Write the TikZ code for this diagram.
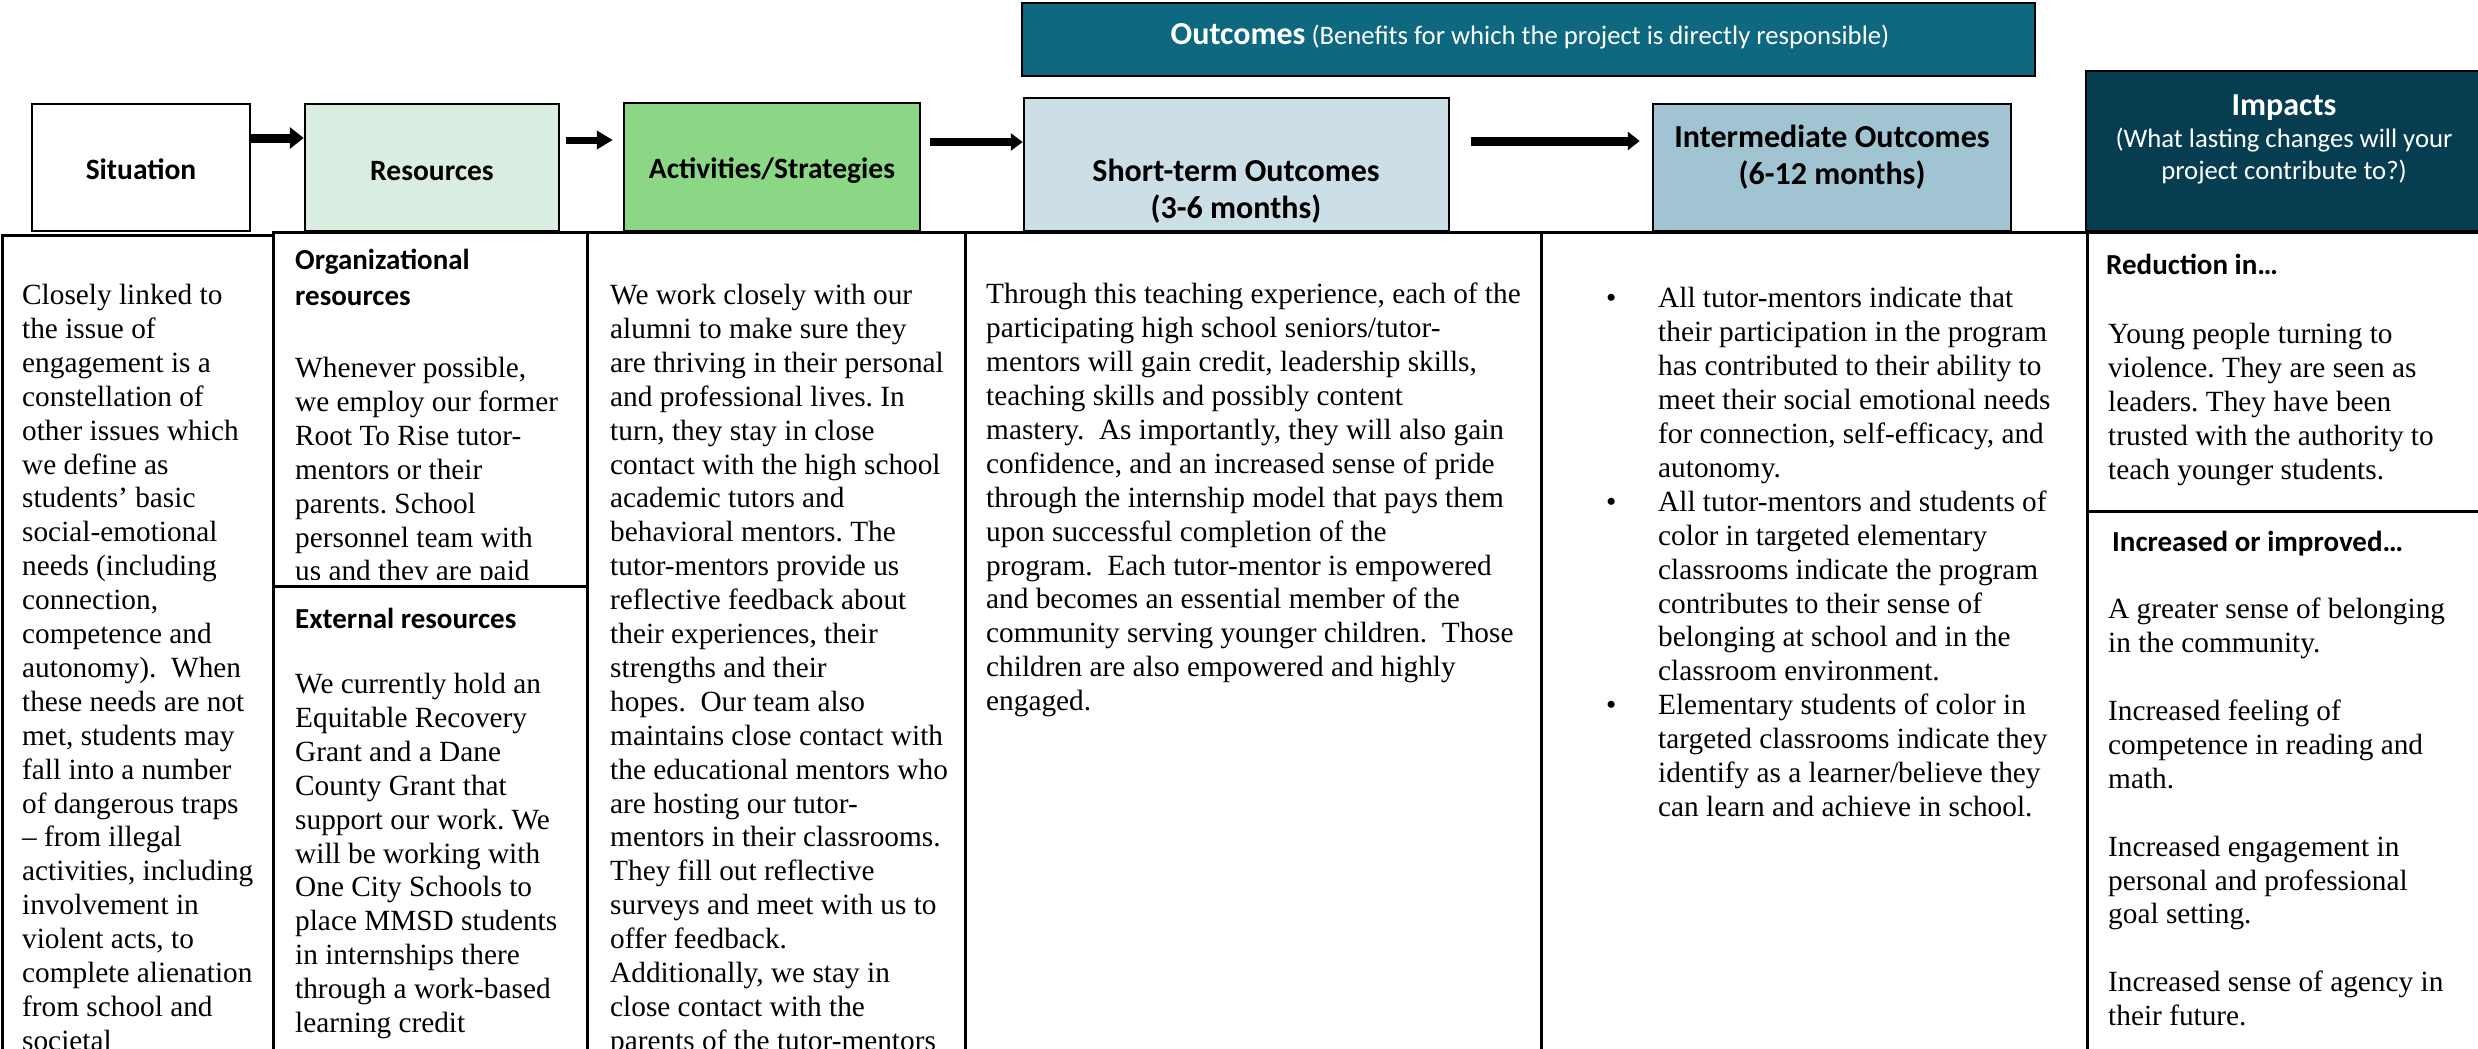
\documentclass[tikz,border=0pt]{standalone}
\usepackage{fontspec}
\setmainfont{Liberation Serif}
\newfontfamily\calfont{Carlito}
\usetikzlibrary{arrows.meta}
\definecolor{resfill}{HTML}{D9EDE1}
\definecolor{actfill}{HTML}{8CD786}
\definecolor{stfill}{HTML}{CCDFE6}
\definecolor{imfill}{HTML}{A1C4D3}
\definecolor{outfill}{HTML}{0D6880}
\definecolor{impfill}{HTML}{073D50}
\frenchspacing
\begin{document}
\begin{tikzpicture}[x=1pt,y=-1pt,
  cell/.style={draw=black, line width=2.5pt, inner sep=0pt, anchor=north west},
  topbox/.style={draw=black, line width=2.5pt, inner sep=0pt},
  body/.style={anchor=north west, inner sep=0pt, align=left, font=\fontsize{29.3}{33.9}\selectfont},
  chead/.style={anchor=north west, inner sep=0pt, align=left, font=\calfont\bfseries\fontsize{29}{36}\selectfont},
  hdr/.style={inner sep=0pt, align=center, font=\calfont\bfseries\fontsize{29.5}{36}\selectfont},
  ohdr/.style={inner sep=0pt, align=center, font=\calfont\bfseries\fontsize{32}{37}\selectfont},
  arr/.style={-{Triangle[length=14pt,width=21pt]}, line width=9pt}
]
\useasboundingbox (0,0) rectangle (2478,1049);
\clip (0,0) rectangle (2478,1049);

% ---------- table cells ----------
\node[cell, minimum width=271pt, minimum height=836pt] (c1) at (1,234) {};
\node[cell, minimum width=314pt, minimum height=354pt] (c2a) at (272,231) {};
\node[cell, minimum width=314pt, minimum height=485pt] (c2b) at (272,585) {};
\node[cell, minimum width=378pt, minimum height=839pt] (c3) at (586,231) {};
\node[cell, minimum width=576pt, minimum height=839pt] (c4) at (964,231) {};
\node[cell, minimum width=546pt, minimum height=839pt] (c5) at (1540,231) {};
\node[cell, minimum width=410pt, minimum height=279pt] (c6a) at (2086,231) {};
\node[cell, minimum width=410pt, minimum height=560pt] (c6b) at (2086,510) {};

% ---------- top boxes ----------
\node[topbox, fill=white, minimum width=218pt, minimum height=127pt] (sit) at (141,167.5) {};
\node[topbox, fill=resfill, minimum width=254pt, minimum height=127pt] (res) at (432,167.5) {};
\node[topbox, fill=actfill, minimum width=296pt, minimum height=128pt] (act) at (772,167) {};
\node[topbox, fill=stfill, minimum width=425pt, minimum height=133pt] (st) at (1236.5,164.5) {};
\node[topbox, fill=imfill, minimum width=358pt, minimum height=127pt] (im) at (1832,167.5) {};
\node[topbox, fill=impfill, minimum width=420pt, minimum height=160pt] (imp) at (2296,151) {};
\node[topbox, fill=outfill, minimum width=1013pt, minimum height=73pt] (out) at (1528.5,39.5) {};

\node[hdr] (sitT) at (141,169) {Situation};
\node[hdr] (resT) at (432,171) {Resources};
\node[hdr] (actT) at (772,171) {Activities/Strategies};
\node[ohdr] (stT) at (1236,191) {Short-term Outcomes\\(3-6 months)};
\node[ohdr] (imT) at (1832,157) {Intermediate Outcomes\\(6-12 months)};
\node[inner sep=0pt, align=center, text=white, font=\calfont\fontsize{26.7}{32}\selectfont] (impT) at (2284,139)
  {{\bfseries\fontsize{32}{34}\selectfont Impacts}\\(What lasting changes will your\\project contribute to?)};
\node[inner sep=0pt, text=white, font=\calfont\fontsize{26.7}{32}\selectfont] (outT) at (1530,36)
  {{\bfseries\fontsize{32}{34}\selectfont Outcomes} (Benefits for which the project is directly responsible)};

% ---------- arrows ----------
\draw[arr] (sit.east |- 0,138) -- (res.west |- 0,138);
\draw[arr, line width=7pt, -{Triangle[length=16pt,width=18pt]}] ([xshift=6pt]res.east |- 0,140) -- ([xshift=-10pt]act.west |- 0,140);
\draw[arr, line width=8pt, -{Triangle[length=12pt,width=17pt]}] ([xshift=9pt]act.east |- 0,142) -- (st.west |- 0,142);
\draw[arr, line width=9pt, -{Triangle[length=12pt,width=18pt]}] ([xshift=21pt]st.east |- 0,141) -- ([xshift=-12pt]im.west |- 0,141);

% ---------- column 1 ----------
\node[body] (t1) at (22,284) {Closely linked to\\the issue of\\engagement is a\\constellation of\\other issues which\\we define as\\students’ basic\\social-emotional\\needs (including\\connection,\\competence and\\autonomy).~ When\\these needs are not\\met, students may\\fall into a number\\of dangerous traps\\– from illegal\\activities, including\\involvement in\\violent acts, to\\complete alienation\\from school and\\societal};

% ---------- column 2 ----------
\node[chead] (h2a) at (295,249) {Organizational\\resources};
\begin{scope}
\clip (272,231) rectangle (586,579);
\node[body] (t2a) at (295,357) {Whenever possible,\\we employ our former\\Root To Rise tutor-\\mentors or their\\parents. School\\personnel team with\\us and they are paid};
\end{scope}
\node[chead] (h2b) at (295,608) {External resources};
\node[body] (t2b) at (295,673) {We currently hold an\\Equitable Recovery\\Grant and a Dane\\County Grant that\\support our work. We\\will be working with\\One City Schools to\\place MMSD students\\in internships there\\through a work-based\\learning credit};

% ---------- column 3 ----------
\node[body] (t3) at (610,284) {We work closely with our\\alumni to make sure they\\are thriving in their personal\\and professional lives. In\\turn, they stay in close\\contact with the high school\\academic tutors and\\behavioral mentors. The\\tutor-mentors provide us\\reflective feedback about\\their experiences, their\\strengths and their\\hopes.~ Our team also\\maintains close contact with\\the educational mentors who\\are hosting our tutor-\\mentors in their classrooms.\\They fill out reflective\\surveys and meet with us to\\offer feedback.\\Additionally, we stay in\\close contact with the\\parents of the tutor-mentors};

% ---------- column 4 ----------
\node[body] (t4) at (986,283) {Through this teaching experience, each of the\\participating high school seniors/tutor-\\mentors will gain credit, leadership skills,\\teaching skills and possibly content\\mastery.~ As importantly, they will also gain\\confidence, and an increased sense of pride\\through the internship model that pays them\\upon successful completion of the\\program.~ Each tutor-mentor is empowered\\and becomes an essential member of the\\community serving younger children.~ Those\\children are also empowered and highly\\engaged.};

% ---------- column 5 ----------
\node[body] (t5) at (1606,284) {\begin{tabular}{@{}p{52pt}@{}l@{}}
•& All tutor-mentors indicate that\\
 & their participation in the program\\
 & has contributed to their ability to\\
 & meet their social emotional needs\\
 & for connection, self-efficacy, and\\
 & autonomy.\\
•& All tutor-mentors and students of\\
 & color in targeted elementary\\
 & classrooms indicate the program\\
 & contributes to their sense of\\
 & belonging at school and in the\\
 & classroom environment.\\
•& Elementary students of color in\\
 & targeted classrooms indicate they\\
 & identify as a learner/believe they\\
 & can learn and achieve in school.
\end{tabular}};

% ---------- column 6 ----------
\node[chead] (h6a) at (2106,254) {Reduction in…};
\node[body] (t6a) at (2108,323) {Young people turning to\\violence. They are seen as\\leaders. They have been\\trusted with the authority to\\teach younger students.};
\node[chead] (h6b) at (2112,531) {Increased or improved…};
\node[body] (t6b) at (2108,598) {A greater sense of belonging\\in the community.\\[33.9pt]Increased feeling of\\competence in reading and\\math.\\[33.9pt]Increased engagement in\\personal and professional\\goal setting.\\[33.9pt]Increased sense of agency in\\their future.};
\end{tikzpicture}
\end{document}
